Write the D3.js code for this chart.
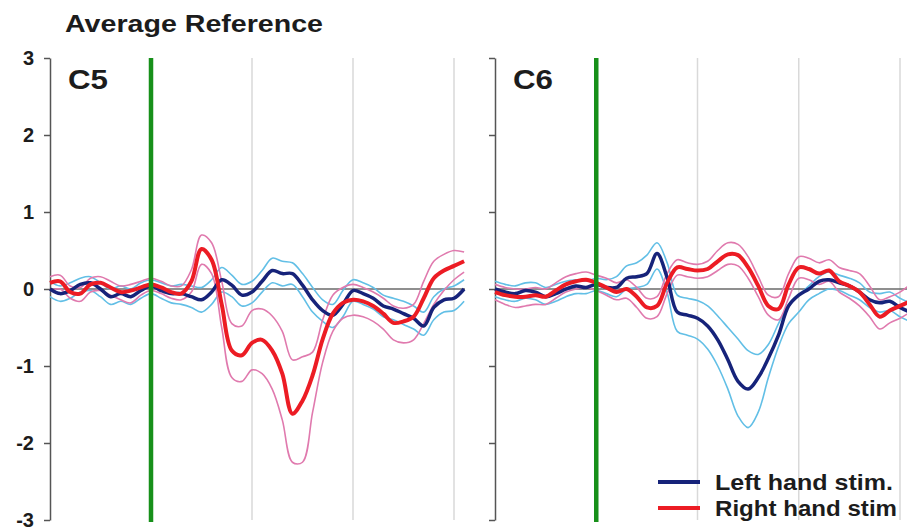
<!DOCTYPE html>
<html>
<head>
<meta charset="utf-8">
<script src="https://cdn.jsdelivr.net/npm/d3@7/dist/d3.min.js"></script>
<style>
  html, body { margin: 0; padding: 0; background: #fff; }
  svg { display: block; }
  text { font-family: "Liberation Sans", Arial, Helvetica, sans-serif; font-weight: bold; fill: #1c1c1c; }
</style>
</head>
<body>
<svg id="chart" width="907" height="532"></svg>
<script>
// Time (ms relative to stimulus), sampled every 10 ms
const times = d3.range(-100, 311, 10);

// Y-axis ticks (µV)
const yTicks = [-3, -2, -1, 0, 1, 2, 3];
const gridTimes = [100, 200, 300];

// C5 — left hand stimulation: mean and confidence bounds
const c5LeftMean  = [0.0,-0.06,-0.02,0.06,0.08,0.0,-0.1,-0.06,-0.1,-0.02,0.04,-0.02,-0.06,-0.06,-0.1,-0.14,-0.04,0.12,0.05,-0.08,-0.04,0.1,0.24,0.2,0.2,0.05,-0.14,-0.28,-0.34,-0.2,-0.02,-0.06,-0.12,-0.22,-0.26,-0.32,-0.38,-0.48,-0.24,-0.14,-0.12,0.0];
const c5LeftUpper = [0.1,0.04,0.08,0.14,0.16,0.08,0.0,0.04,0.0,0.08,0.12,0.08,0.04,0.06,0.04,0.02,0.12,0.28,0.18,0.06,0.1,0.24,0.4,0.36,0.34,0.2,0.02,-0.14,-0.2,-0.02,0.12,0.08,0.02,-0.08,-0.12,-0.16,-0.22,-0.3,-0.1,0.0,0.04,0.12];
const c5LeftLower = [-0.1,-0.16,-0.12,-0.04,-0.02,-0.1,-0.2,-0.16,-0.2,-0.12,-0.06,-0.12,-0.18,-0.2,-0.24,-0.3,-0.2,-0.04,-0.1,-0.22,-0.18,-0.04,0.08,0.04,0.06,-0.1,-0.3,-0.42,-0.5,-0.36,-0.16,-0.2,-0.26,-0.36,-0.4,-0.46,-0.52,-0.6,-0.4,-0.3,-0.28,-0.16];

// C5 — right hand stimulation
const c5RightMean  = [0.08,0.1,-0.04,-0.06,0.06,0.08,0.02,-0.04,-0.02,0.02,0.06,0.02,-0.04,-0.06,0.1,0.52,0.38,-0.2,-0.8,-0.86,-0.7,-0.66,-0.8,-1.1,-1.62,-1.45,-1.12,-0.65,-0.32,-0.18,-0.14,-0.16,-0.22,-0.32,-0.44,-0.42,-0.36,-0.12,0.14,0.24,0.3,0.36];
const c5RightUpper = [0.16,0.18,0.04,0.02,0.14,0.16,0.1,0.04,0.06,0.1,0.14,0.1,0.04,0.04,0.25,0.7,0.6,0.1,-0.45,-0.48,-0.28,-0.26,-0.35,-0.55,-0.92,-0.88,-0.82,-0.4,-0.08,0.02,0.06,0.02,-0.04,-0.12,-0.22,-0.25,-0.2,0.1,0.36,0.45,0.5,0.48];
const c5RightLower = [-0.02,0.0,-0.12,-0.16,-0.04,-0.02,-0.08,-0.14,-0.18,-0.08,-0.02,-0.06,-0.12,-0.14,-0.04,0.32,0.2,-0.5,-1.15,-1.2,-1.05,-1.1,-1.3,-1.7,-2.25,-2.25,-1.6,-0.95,-0.55,-0.38,-0.34,-0.36,-0.42,-0.52,-0.66,-0.7,-0.66,-0.45,-0.2,-0.02,0.12,0.22];

// C6 — left hand stimulation
const c6LeftMean  = [0.0,-0.04,-0.06,-0.02,-0.04,-0.1,-0.06,0.0,0.04,0.02,0.06,0.02,0.02,0.14,0.16,0.2,0.46,0.15,-0.3,-0.34,-0.38,-0.48,-0.66,-0.92,-1.2,-1.3,-1.15,-0.9,-0.6,-0.22,-0.08,0.0,0.1,0.12,0.08,0.04,-0.04,-0.14,-0.18,-0.16,-0.24,-0.3];
const c6LeftUpper = [0.1,0.06,0.04,0.08,0.08,0.02,0.06,0.1,0.12,0.1,0.14,0.12,0.16,0.3,0.34,0.44,0.6,0.34,-0.08,-0.12,-0.15,-0.22,-0.35,-0.5,-0.65,-0.8,-0.85,-0.72,-0.45,-0.2,-0.08,0.04,0.16,0.22,0.18,0.14,0.08,-0.04,-0.06,-0.04,-0.12,-0.18];
const c6LeftLower = [-0.1,-0.14,-0.16,-0.12,-0.14,-0.2,-0.16,-0.1,-0.06,-0.06,-0.02,-0.06,-0.1,0.0,0.02,0.06,0.26,-0.05,-0.55,-0.6,-0.65,-0.78,-1.0,-1.3,-1.65,-1.8,-1.6,-1.15,-0.75,-0.45,-0.3,-0.14,-0.06,0.0,-0.02,-0.08,-0.14,-0.24,-0.3,-0.28,-0.36,-0.42];

// C6 — right hand stimulation
const c6RightMean  = [-0.04,-0.08,-0.1,-0.1,-0.08,-0.1,-0.02,0.06,0.1,0.12,0.08,0.02,-0.04,0.0,-0.1,-0.24,-0.22,0.08,0.28,0.26,0.24,0.26,0.36,0.45,0.44,0.28,0.04,-0.22,-0.26,0.06,0.28,0.26,0.2,0.24,0.1,0.04,-0.04,-0.2,-0.36,-0.28,-0.22,-0.16];
const c6RightUpper = [0.06,0.02,0.0,0.0,0.02,0.0,0.08,0.16,0.2,0.22,0.18,0.14,0.08,0.12,0.02,-0.12,-0.1,0.2,0.38,0.34,0.32,0.36,0.5,0.6,0.58,0.42,0.16,-0.08,-0.1,0.2,0.42,0.4,0.34,0.38,0.28,0.24,0.2,0.04,-0.14,-0.1,-0.04,0.06];
const c6RightLower = [-0.14,-0.2,-0.24,-0.22,-0.2,-0.2,-0.12,-0.04,0.0,0.02,-0.02,-0.08,-0.14,-0.12,-0.24,-0.38,-0.36,-0.06,0.18,0.16,0.14,0.16,0.24,0.32,0.3,0.14,-0.1,-0.34,-0.4,-0.12,0.14,0.12,0.06,0.1,-0.04,-0.12,-0.22,-0.36,-0.52,-0.44,-0.38,-0.3];

const panels = [
  { name: "C5", range: [50, 454], labels: true, zeroEnd: 465,
    left: [c5LeftMean, c5LeftUpper, c5LeftLower], right: [c5RightMean, c5RightUpper, c5RightLower] },
  { name: "C6", range: [495, 900], labels: false, zeroEnd: 907,
    left: [c6LeftMean, c6LeftUpper, c6LeftLower], right: [c6RightMean, c6RightUpper, c6RightLower] }
];

const colors = {
  leftMean: "#16237a", leftCI: "#62bfe6",
  rightMean: "#ec1c24", rightCI: "#e07aae",
  stim: "#17901a", grid: "#d9d9d9", zero: "#6a6a6a", axis: "#555"
};

const svg = d3.select("#chart");
svg.append("rect").attr("width", 907).attr("height", 532).attr("fill", "#fff");

const y = d3.scaleLinear().domain([-3, 3]).range([520, 58]);

svg.append("text")
  .attr("x", 65).attr("y", 32)
  .attr("font-size", 24)
  .attr("textLength", 258).attr("lengthAdjust", "spacingAndGlyphs")
  .text("Average Reference");

panels.forEach(p => {
  const x = d3.scaleLinear().domain([-100, 300]).range(p.range);
  const g = svg.append("g");

  // vertical grid lines at 100 ms intervals
  g.selectAll(".grid").data(gridTimes).join("line")
    .attr("x1", d => x(d)).attr("x2", d => x(d))
    .attr("y1", y(3)).attr("y2", y(-3))
    .attr("stroke", colors.grid).attr("stroke-width", 1.5);

  // baseline
  g.append("line")
    .attr("x1", x(-100)).attr("x2", p.zeroEnd)
    .attr("y1", y(0)).attr("y2", y(0))
    .attr("stroke", colors.zero).attr("stroke-width", 1.5);

  // y axis
  const axis = d3.axisLeft(y).tickValues(yTicks).tickSize(6).tickSizeOuter(0).tickPadding(10)
    .tickFormat(p.labels ? (d => String(d)) : () => "");
  const ag = g.append("g").attr("transform", `translate(${x(-100)},0)`).call(axis);
  ag.select(".domain").attr("stroke", colors.axis).attr("stroke-width", 1.5);
  ag.selectAll(".tick line").attr("stroke", colors.axis).attr("stroke-width", 1.5);
  ag.selectAll(".tick text")
    .attr("font-size", 20).attr("font-weight", "bold")
    .attr("font-family", "\"Liberation Sans\", Arial, sans-serif")
    .attr("fill", "#1c1c1c");

  const line = d3.line()
    .x((d, i) => x(times[i]))
    .y(d => y(d))
    .curve(d3.curveCatmullRom.alpha(0.5));

  // confidence bounds
  [[p.left[1], colors.leftCI], [p.left[2], colors.leftCI],
   [p.right[1], colors.rightCI], [p.right[2], colors.rightCI]].forEach(([vals, c]) => {
    g.append("path").attr("d", line(vals))
      .attr("fill", "none").attr("stroke", c).attr("stroke-width", 1.6)
      .attr("stroke-linejoin", "round");
  });

  // means
  g.append("path").attr("d", line(p.left[0]))
    .attr("fill", "none").attr("stroke", colors.leftMean).attr("stroke-width", 3.5)
    .attr("stroke-linejoin", "round");
  g.append("path").attr("d", line(p.right[0]))
    .attr("fill", "none").attr("stroke", colors.rightMean).attr("stroke-width", 4)
    .attr("stroke-linejoin", "round");

  // stimulus onset
  g.append("line")
    .attr("x1", x(0)).attr("x2", x(0))
    .attr("y1", y(3)).attr("y2", y(-3) + 2)
    .attr("stroke", colors.stim).attr("stroke-width", 4.5);

  // electrode label
  g.append("text")
    .attr("x", x(-100) + 18).attr("y", 89)
    .attr("font-size", 27)
    .attr("textLength", 40).attr("lengthAdjust", "spacingAndGlyphs")
    .text(p.name);
});

// legend
const legend = [
  { label: "Left hand stim.", color: colors.leftMean, y: 482, w: 178 },
  { label: "Right hand stim", color: colors.rightMean, y: 508, w: 182 }
];
const lg = svg.append("g");
legend.forEach(d => {
  lg.append("line").attr("x1", 658).attr("x2", 700).attr("y1", d.y).attr("y2", d.y)
    .attr("stroke", d.color).attr("stroke-width", 4);
  lg.append("text").attr("x", 715).attr("y", d.y + 8)
    .attr("font-size", 22)
    .attr("textLength", d.w).attr("lengthAdjust", "spacingAndGlyphs")
    .text(d.label);
});
</script>
</body>
</html>
